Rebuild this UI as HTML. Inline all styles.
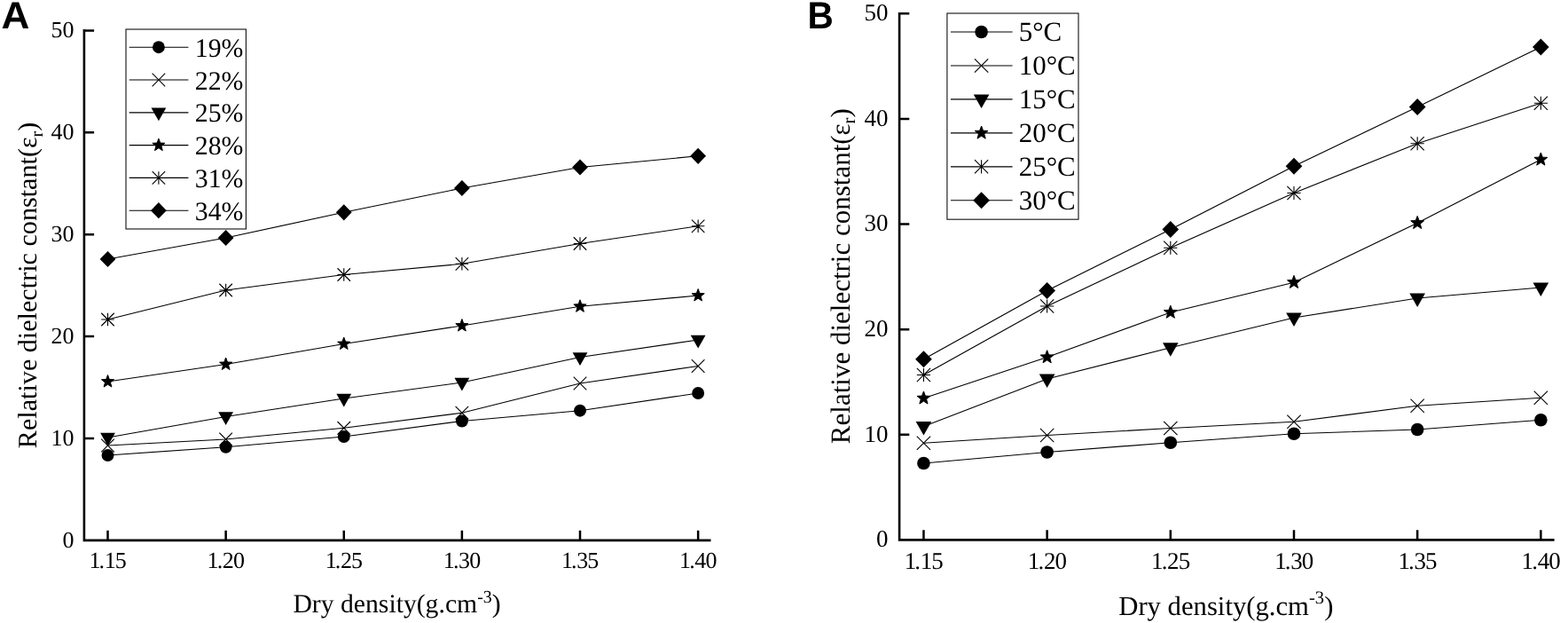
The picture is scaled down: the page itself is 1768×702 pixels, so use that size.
<!DOCTYPE html>
<html lang="en">
<head>
<meta charset="utf-8">
<title>Relative dielectric constant vs dry density</title>
<style>
html,body{margin:0;padding:0;background:#fff;}
body{width:1768px;height:702px;overflow:hidden;}
svg{display:block;}
text{text-rendering:geometricPrecision;}
.s{font-family:"Liberation Serif","DejaVu Serif",serif;fill:#000;}
.b{font-family:"Liberation Sans","DejaVu Sans",sans-serif;font-weight:bold;fill:#000;}
.ax{fill:none;stroke:#000;stroke-width:2.6;stroke-linecap:butt;stroke-linejoin:miter;}
.tk{fill:none;stroke:#000;stroke-width:2.5;}
.ln{fill:none;stroke:#000;stroke-width:1.15;}
.mk{fill:none;stroke:#000;stroke-width:1.1;}
.st{stroke:#000;stroke-width:1;stroke-linejoin:round;}
.lb{fill:#fff;stroke:#1a1a1a;stroke-width:1.15;}
</style>
</head>
<body>
<svg width="1768" height="702" viewBox="0 0 1768 702">
<rect width="1768" height="702" fill="#fff"/>
<g id="panel-a">
<path class="ax" d="M94.9 33.1L94.9 608.9L801.5 608.9"/>
<path class="tk" d="M94.9 494L106.1 494M94.9 379.1L106.1 379.1M94.9 264.2L106.1 264.2M94.9 149.3L106.1 149.3M94.9 34.4L106.1 34.4M121.5 608.9L121.5 597.7M254.63 608.9L254.63 597.7M387.76 608.9L387.76 597.7M520.89 608.9L520.89 597.7M654.02 608.9L654.02 597.7M787.15 608.9L787.15 597.7"/>
<g class="s" font-size="26" text-anchor="end">
<text x="83.6" y="616.5">0</text>
<text x="83.6" y="501.6">10</text>
<text x="83.6" y="386.7">20</text>
<text x="83.6" y="271.8">30</text>
<text x="83.6" y="156.9">40</text>
<text x="83.6" y="42">50</text>
</g>
<g class="s" font-size="26" text-anchor="middle">
<text x="121.6" y="640" dx="0 -1.9 -0.3 -0.9">1.15</text>
<text x="254.73" y="640" dx="0 -1.9 -0.3 -0.9">1.20</text>
<text x="387.86" y="640" dx="0 -1.9 -0.3 -0.9">1.25</text>
<text x="520.99" y="640" dx="0 -1.9 -0.3 -0.9">1.30</text>
<text x="654.12" y="640" dx="0 -1.9 -0.3 -0.9">1.35</text>
<text x="787.25" y="640" dx="0 -1.9 -0.3 -0.9">1.40</text>
</g>
<text class="s" font-size="29.7" text-anchor="middle" x="447.5" y="690.4">Dry density(g.cm<tspan font-size="19.9" dy="-11.88">-3</tspan><tspan dy="11.88">)</tspan></text>
<text class="s" font-size="30.15" text-anchor="middle" transform="translate(41.3 321.4) rotate(-90)">Relative dielectric constant(ε<tspan font-size="20.2" dy="6.33">r</tspan><tspan dy="-6.33">)</tspan></text>
<path class="ln" d="M121.5 513L254.63 503.75L387.76 492L520.89 474.5L654.02 462.7L787.15 443"/>
<path class="ln" d="M121.5 502L254.63 495L387.76 482.3L520.89 465.2L654.02 432L787.15 412.5"/>
<path class="ln" d="M121.5 493L254.63 469.5L387.76 449L520.89 431L654.02 402.5L787.15 383"/>
<path class="ln" d="M121.5 430L254.63 410.5L387.76 387.5L520.89 367L654.02 345.3L787.15 333"/>
<path class="ln" d="M121.5 360L254.63 327L387.76 309.5L520.89 297.3L654.02 274.5L787.15 254.8"/>
<path class="ln" d="M121.5 292L254.63 268L387.76 239.3L520.89 212L654.02 188.5L787.15 175.8"/>
<g><circle cx="121.5" cy="513" r="6.95"/><circle cx="254.63" cy="503.75" r="6.95"/><circle cx="387.76" cy="492" r="6.95"/><circle cx="520.89" cy="474.5" r="6.95"/><circle cx="654.02" cy="462.7" r="6.95"/><circle cx="787.15" cy="443" r="6.95"/></g>
<g><path class="mk" d="M114.2 494.7L128.8 509.3M114.2 509.3L128.8 494.7"/><path class="mk" d="M247.33 487.7L261.93 502.3M247.33 502.3L261.93 487.7"/><path class="mk" d="M380.46 475L395.06 489.6M380.46 489.6L395.06 475"/><path class="mk" d="M513.59 457.9L528.19 472.5M513.59 472.5L528.19 457.9"/><path class="mk" d="M646.72 424.7L661.32 439.3M646.72 439.3L661.32 424.7"/><path class="mk" d="M779.85 405.2L794.45 419.8M779.85 419.8L794.45 405.2"/></g>
<g><path d="M113.1 487.8L129.9 487.8L121.5 502.5Z"/><path d="M246.23 464.3L263.03 464.3L254.63 479Z"/><path d="M379.36 443.8L396.16 443.8L387.76 458.5Z"/><path d="M512.49 425.8L529.29 425.8L520.89 440.5Z"/><path d="M645.62 397.3L662.42 397.3L654.02 412Z"/><path d="M778.75 377.8L795.55 377.8L787.15 392.5Z"/></g>
<g><path class="st" d="M121.5 422.55L123.34 427.47L128.59 427.7L124.48 430.97L125.88 436.03L121.5 433.13L117.12 436.03L118.52 430.97L114.41 427.7L119.66 427.47Z"/><path class="st" d="M254.63 403.05L256.47 407.97L261.72 408.2L257.61 411.47L259.01 416.53L254.63 413.63L250.25 416.53L251.65 411.47L247.54 408.2L252.79 407.97Z"/><path class="st" d="M387.76 380.05L389.6 384.97L394.85 385.2L390.74 388.47L392.14 393.53L387.76 390.63L383.38 393.53L384.78 388.47L380.67 385.2L385.92 384.97Z"/><path class="st" d="M520.89 359.55L522.73 364.47L527.98 364.7L523.87 367.97L525.27 373.03L520.89 370.13L516.51 373.03L517.91 367.97L513.8 364.7L519.05 364.47Z"/><path class="st" d="M654.02 337.85L655.86 342.77L661.11 343L657 346.27L658.4 351.33L654.02 348.43L649.64 351.33L651.04 346.27L646.93 343L652.18 342.77Z"/><path class="st" d="M787.15 325.55L788.99 330.47L794.24 330.7L790.13 333.97L791.53 339.03L787.15 336.13L782.77 339.03L784.17 333.97L780.06 330.7L785.31 330.47Z"/></g>
<g><path class="mk" d="M114.25 352.75L128.75 367.25M114.25 367.25L128.75 352.75M121.5 352.75L121.5 367.25M114.25 360L128.75 360"/><path class="mk" d="M247.38 319.75L261.88 334.25M247.38 334.25L261.88 319.75M254.63 319.75L254.63 334.25M247.38 327L261.88 327"/><path class="mk" d="M380.51 302.25L395.01 316.75M380.51 316.75L395.01 302.25M387.76 302.25L387.76 316.75M380.51 309.5L395.01 309.5"/><path class="mk" d="M513.64 290.05L528.14 304.55M513.64 304.55L528.14 290.05M520.89 290.05L520.89 304.55M513.64 297.3L528.14 297.3"/><path class="mk" d="M646.77 267.25L661.27 281.75M646.77 281.75L661.27 267.25M654.02 267.25L654.02 281.75M646.77 274.5L661.27 274.5"/><path class="mk" d="M779.9 247.55L794.4 262.05M779.9 262.05L794.4 247.55M787.15 247.55L787.15 262.05M779.9 254.8L794.4 254.8"/></g>
<g><path d="M121.5 282.9L130.4 292L121.5 301.1L112.6 292Z"/><path d="M254.63 258.9L263.53 268L254.63 277.1L245.73 268Z"/><path d="M387.76 230.2L396.66 239.3L387.76 248.4L378.86 239.3Z"/><path d="M520.89 202.9L529.79 212L520.89 221.1L511.99 212Z"/><path d="M654.02 179.4L662.92 188.5L654.02 197.6L645.12 188.5Z"/><path d="M787.15 166.7L796.05 175.8L787.15 184.9L778.25 175.8Z"/></g>
<rect class="lb" x="142" y="33" width="135.4" height="225"/>
<g class="s" font-size="29.8">
<path class="ln" d="M145.7 53.2L212.4 53.2"/>
<circle cx="178.9" cy="53.2" r="6.95"/>
<text x="219.8" y="63.8">19%</text>
<path class="ln" d="M145.7 90L212.4 90"/>
<path class="mk" d="M171.6 82.7L186.2 97.3M171.6 97.3L186.2 82.7"/>
<text x="219.8" y="100.6">22%</text>
<path class="ln" d="M145.7 126.8L212.4 126.8"/>
<path d="M170.5 121.6L187.3 121.6L178.9 136.3Z"/>
<text x="219.8" y="137.4">25%</text>
<path class="ln" d="M145.7 163.6L212.4 163.6"/>
<path class="st" d="M178.9 156.15L180.74 161.07L185.99 161.3L181.88 164.57L183.28 169.63L178.9 166.73L174.52 169.63L175.92 164.57L171.81 161.3L177.06 161.07Z"/>
<text x="219.8" y="174.2">28%</text>
<path class="ln" d="M145.7 200.4L212.4 200.4"/>
<path class="mk" d="M171.65 193.15L186.15 207.65M171.65 207.65L186.15 193.15M178.9 193.15L178.9 207.65"/>
<text x="219.8" y="211">31%</text>
<path class="ln" d="M145.7 237.2L212.4 237.2"/>
<path d="M178.9 228.1L187.8 237.2L178.9 246.3L170 237.2Z"/>
<text x="219.8" y="247.8">34%</text>
</g>
<text class="b" font-size="42.8" x="1.6" y="32.4" textLength="31.9" lengthAdjust="spacingAndGlyphs">A</text>
</g>
<g id="panel-b">
<path class="ax" d="M1014.1 14L1014.1 608.4L1752.6 608.4"/>
<path class="tk" d="M1014.1 489.78L1025.3 489.78M1014.1 371.16L1025.3 371.16M1014.1 252.54L1025.3 252.54M1014.1 133.92L1025.3 133.92M1014.1 15.3L1025.3 15.3M1041.45 608.4L1041.45 597.2M1180.63 608.4L1180.63 597.2M1319.81 608.4L1319.81 597.2M1458.99 608.4L1458.99 597.2M1598.17 608.4L1598.17 597.2M1737.35 608.4L1737.35 597.2"/>
<g class="s" font-size="27" text-anchor="end">
<text x="1001.5" y="616.2">0</text>
<text x="1001.5" y="497.58">10</text>
<text x="1001.5" y="378.96">20</text>
<text x="1001.5" y="260.34">30</text>
<text x="1001.5" y="141.72">40</text>
<text x="1001.5" y="23.1">50</text>
</g>
<g class="s" font-size="27" text-anchor="middle">
<text x="1041.75" y="641" dx="0 -1.9 -0.3 -0.9">1.15</text>
<text x="1180.93" y="641" dx="0 -1.9 -0.3 -0.9">1.20</text>
<text x="1320.11" y="641" dx="0 -1.9 -0.3 -0.9">1.25</text>
<text x="1459.29" y="641" dx="0 -1.9 -0.3 -0.9">1.30</text>
<text x="1598.47" y="641" dx="0 -1.9 -0.3 -0.9">1.35</text>
<text x="1737.65" y="641" dx="0 -1.9 -0.3 -0.9">1.40</text>
</g>
<text class="s" font-size="30.7" text-anchor="middle" x="1382.3" y="692.6">Dry density(g.cm<tspan font-size="20.57" dy="-12.28">-3</tspan><tspan dy="12.28">)</tspan></text>
<text class="s" font-size="31" text-anchor="middle" transform="translate(957.5 311.15) rotate(-90)">Relative dielectric constant(ε<tspan font-size="20.77" dy="6.51">r</tspan><tspan dy="-6.51">)</tspan></text>
<path class="ln" d="M1041.45 522L1180.63 509.5L1319.81 498.75L1458.99 488.75L1598.17 484L1737.35 473.25"/>
<path class="ln" d="M1041.45 499.25L1180.63 490.5L1319.81 482.5L1458.99 475.3L1598.17 457.3L1737.35 448.3"/>
<path class="ln" d="M1041.45 480.5L1180.63 427L1319.81 391.75L1458.99 358L1598.17 336L1737.35 324"/>
<path class="ln" d="M1041.45 448.75L1180.63 402.5L1319.81 352L1458.99 318.2L1598.17 251.25L1737.35 179.8"/>
<path class="ln" d="M1041.45 422.5L1180.63 345L1319.81 279.25L1458.99 217.5L1598.17 161.75L1737.35 116.25"/>
<path class="ln" d="M1041.45 404.75L1180.63 327.5L1319.81 258.5L1458.99 187.3L1598.17 120.5L1737.35 53"/>
<g><circle cx="1041.45" cy="522" r="7.3"/><circle cx="1180.63" cy="509.5" r="7.3"/><circle cx="1319.81" cy="498.75" r="7.3"/><circle cx="1458.99" cy="488.75" r="7.3"/><circle cx="1598.17" cy="484" r="7.3"/><circle cx="1737.35" cy="473.25" r="7.3"/></g>
<g><path class="mk" d="M1033.79 491.58L1049.12 506.92M1033.79 506.92L1049.12 491.58"/><path class="mk" d="M1172.97 482.83L1188.3 498.17M1172.97 498.17L1188.3 482.83"/><path class="mk" d="M1312.14 474.83L1327.47 490.17M1312.14 490.17L1327.47 474.83"/><path class="mk" d="M1451.33 467.63L1466.65 482.97M1451.33 482.97L1466.65 467.63"/><path class="mk" d="M1590.51 449.63L1605.84 464.97M1590.51 464.97L1605.84 449.63"/><path class="mk" d="M1729.69 440.63L1745.02 455.97M1729.69 455.97L1745.02 440.63"/></g>
<g><path d="M1032.63 475.04L1050.27 475.04L1041.45 490.48Z"/><path d="M1171.81 421.54L1189.45 421.54L1180.63 436.98Z"/><path d="M1310.99 386.29L1328.63 386.29L1319.81 401.73Z"/><path d="M1450.17 352.54L1467.81 352.54L1458.99 367.98Z"/><path d="M1589.35 330.54L1606.99 330.54L1598.17 345.98Z"/><path d="M1728.53 318.54L1746.17 318.54L1737.35 333.98Z"/></g>
<g><path class="st" d="M1041.45 440.93L1043.38 446.09L1048.89 446.33L1044.57 449.77L1046.05 455.08L1041.45 452.04L1036.85 455.08L1038.33 449.77L1034.01 446.33L1039.52 446.09Z"/><path class="st" d="M1180.63 394.68L1182.56 399.84L1188.07 400.08L1183.75 403.52L1185.23 408.83L1180.63 405.79L1176.03 408.83L1177.51 403.52L1173.19 400.08L1178.7 399.84Z"/><path class="st" d="M1319.81 344.18L1321.74 349.34L1327.25 349.58L1322.93 353.02L1324.41 358.33L1319.81 355.29L1315.21 358.33L1316.69 353.02L1312.37 349.58L1317.88 349.34Z"/><path class="st" d="M1458.99 310.38L1460.92 315.54L1466.43 315.78L1462.11 319.22L1463.59 324.53L1458.99 321.49L1454.39 324.53L1455.87 319.22L1451.55 315.78L1457.06 315.54Z"/><path class="st" d="M1598.17 243.43L1600.1 248.59L1605.61 248.83L1601.29 252.27L1602.77 257.58L1598.17 254.54L1593.57 257.58L1595.05 252.27L1590.73 248.83L1596.24 248.59Z"/><path class="st" d="M1737.35 171.98L1739.28 177.14L1744.79 177.38L1740.47 180.82L1741.95 186.13L1737.35 183.09L1732.75 186.13L1734.23 180.82L1729.91 177.38L1735.42 177.14Z"/></g>
<g><path class="mk" d="M1033.84 414.89L1049.06 430.11M1033.84 430.11L1049.06 414.89M1041.45 414.89L1041.45 430.11M1033.84 422.5L1049.06 422.5"/><path class="mk" d="M1173.02 337.39L1188.24 352.61M1173.02 352.61L1188.24 337.39M1180.63 337.39L1180.63 352.61M1173.02 345L1188.24 345"/><path class="mk" d="M1312.2 271.64L1327.42 286.86M1312.2 286.86L1327.42 271.64M1319.81 271.64L1319.81 286.86M1312.2 279.25L1327.42 279.25"/><path class="mk" d="M1451.38 209.89L1466.6 225.11M1451.38 225.11L1466.6 209.89M1458.99 209.89L1458.99 225.11M1451.38 217.5L1466.6 217.5"/><path class="mk" d="M1590.56 154.14L1605.78 169.36M1590.56 169.36L1605.78 154.14M1598.17 154.14L1598.17 169.36M1590.56 161.75L1605.78 161.75"/><path class="mk" d="M1729.74 108.64L1744.96 123.86M1729.74 123.86L1744.96 108.64M1737.35 108.64L1737.35 123.86M1729.74 116.25L1744.96 116.25"/></g>
<g><path d="M1041.45 395.19L1050.8 404.75L1041.45 414.31L1032.11 404.75Z"/><path d="M1180.63 317.94L1189.98 327.5L1180.63 337.06L1171.29 327.5Z"/><path d="M1319.81 248.94L1329.15 258.5L1319.81 268.06L1310.46 258.5Z"/><path d="M1458.99 177.75L1468.34 187.3L1458.99 196.86L1449.64 187.3Z"/><path d="M1598.17 110.94L1607.52 120.5L1598.17 130.06L1588.83 120.5Z"/><path d="M1737.35 43.45L1746.7 53L1737.35 62.55L1728.01 53Z"/></g>
<rect class="lb" x="1067.9" y="15" width="148.1" height="232.2"/>
<g class="s" font-size="31">
<path class="ln" d="M1072 36L1141.6 36"/>
<circle cx="1106.6" cy="36" r="7.3"/>
<text x="1148.7" y="46.4">5°C</text>
<path class="ln" d="M1072 73.95L1141.6 73.95"/>
<path class="mk" d="M1098.93 66.28L1114.26 81.62M1098.93 81.62L1114.26 66.28"/>
<text x="1148.7" y="84.35">10°C</text>
<path class="ln" d="M1072 111.9L1141.6 111.9"/>
<path d="M1097.78 106.44L1115.42 106.44L1106.6 121.88Z"/>
<text x="1148.7" y="122.3">15°C</text>
<path class="ln" d="M1072 149.85L1141.6 149.85"/>
<path class="st" d="M1106.6 142.03L1108.53 147.19L1114.04 147.43L1109.72 150.87L1111.2 156.18L1106.6 153.14L1102 156.18L1103.48 150.87L1099.16 147.43L1104.67 147.19Z"/>
<text x="1148.7" y="160.25">20°C</text>
<path class="ln" d="M1072 187.8L1141.6 187.8"/>
<path class="mk" d="M1098.99 180.19L1114.21 195.41M1098.99 195.41L1114.21 180.19M1106.6 180.19L1106.6 195.41"/>
<text x="1148.7" y="198.2">25°C</text>
<path class="ln" d="M1072 225.75L1141.6 225.75"/>
<path d="M1106.6 216.19L1115.94 225.75L1106.6 235.31L1097.25 225.75Z"/>
<text x="1148.7" y="236.15">30°C</text>
</g>
<text class="b" font-size="42.8" x="910.4" y="32.4" textLength="29.3" lengthAdjust="spacingAndGlyphs">B</text>
</g>
</svg>
</body>
</html>
